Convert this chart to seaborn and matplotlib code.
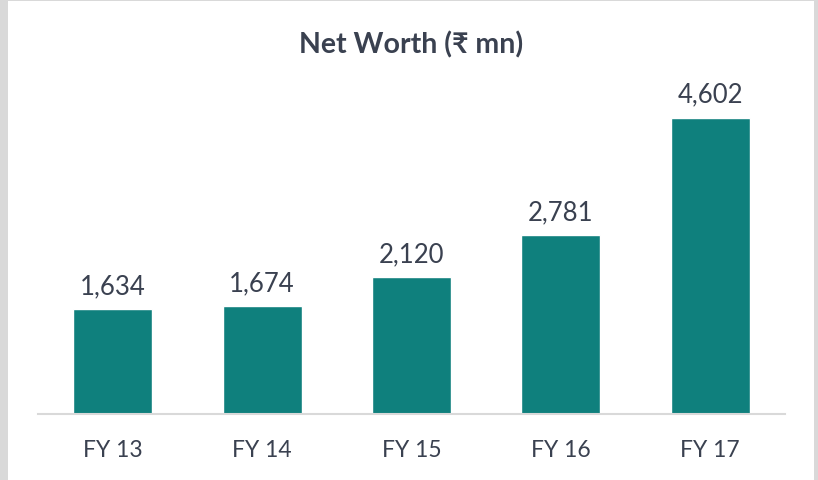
import matplotlib
matplotlib.use("Agg")
import matplotlib.pyplot as plt
import seaborn as sns
import pandas as pd

# chart data
years = ["FY 13", "FY 14", "FY 15", "FY 16", "FY 17"]
net_worth = [1634, 1674, 2120, 2781, 4602]

df = pd.DataFrame({"year": years, "net_worth": net_worth})

sns.set_style("white")
plt.rcParams['font.family'] = ['Lato', 'DejaVu Sans']

text_col = "#3A4150"
bar_col = "#0F807D"

fig = plt.figure(figsize=(8.18, 4.81), dpi=100, facecolor="#D9D9D9")
# white chart panel inside the grey frame
fig.patches.append(plt.Rectangle((8 / 818, 0), 806 / 818, 479 / 481,
                                 transform=fig.transFigure, facecolor="white",
                                 edgecolor="none", zorder=-10))

ax = fig.add_axes([38 / 818, 66 / 481, 747 / 818, 322 / 481])
ax.set_facecolor("none")
ax.set_zorder(5)

sns.barplot(data=df, x="year", y="net_worth", color=bar_col, width=0.53,
            saturation=1, ax=ax)

for i, v in enumerate(net_worth):
    ax.text(i, v + 170, f"{v:,}", ha="center", va="bottom",
            fontsize=18.5, color=text_col)

ax.set_ylim(0, 5000)
ax.set_xlim(-0.5, len(years) - 0.5)
ax.set_xlabel("")
ax.set_ylabel("")
ax.set_yticks([])
for s in ["top", "right", "left"]:
    ax.spines[s].set_visible(False)
ax.spines["bottom"].set_color("#D9D9D9")
ax.spines["bottom"].set_linewidth(1.5)
ax.tick_params(axis="x", length=0, pad=18, labelsize=16.5, colors=text_col)

fig.text(411 / 818, 1 - 45 / 481, "Net Worth (₹ mn)", ha="center", va="center",
         fontsize=20.5, fontweight="bold", color=text_col, zorder=6)

fig.savefig("out.png", dpi=100, facecolor=fig.get_facecolor())
